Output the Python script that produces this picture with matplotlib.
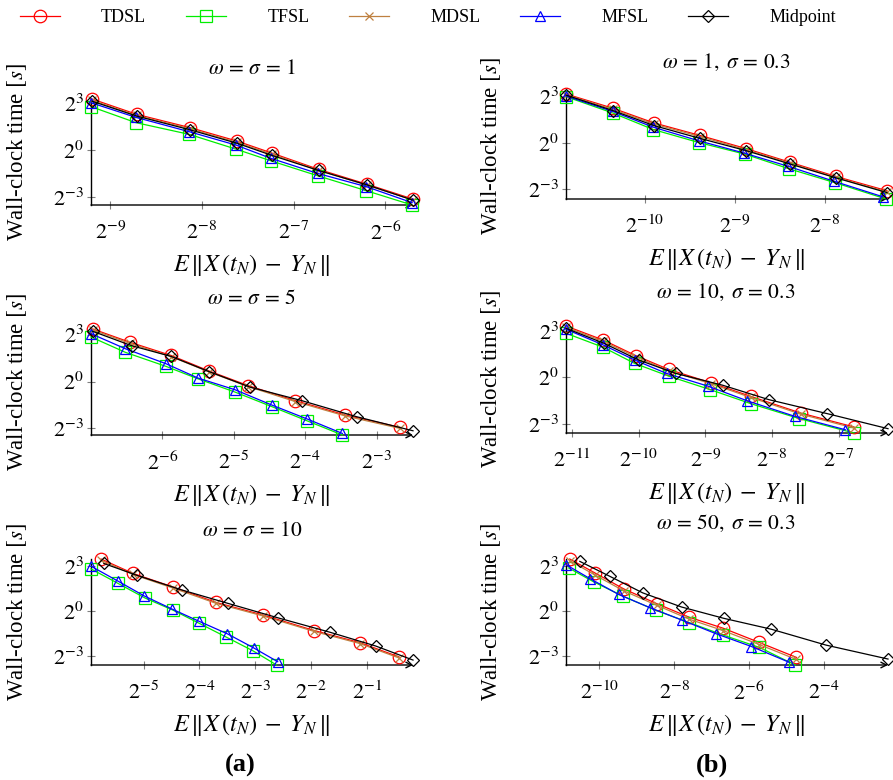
import numpy as np
import matplotlib
matplotlib.use("Agg")
import matplotlib.pyplot as plt
from matplotlib.ticker import FixedLocator, FixedFormatter, NullLocator

plt.rcParams['font.family'] = ['Liberation Serif', 'DejaVu Serif']
plt.rcParams['mathtext.fontset'] = 'stix'

# ---------------- data (log2 of error and log2 of wall-clock time) ----------------
methods = ["TDSL", "TFSL", "MDSL", "MFSL", "Midpoint"]

titles = [r"$\omega\,=\,\sigma\,=\,1$", r"$\omega\,=\,1,\;\sigma\,=\,0.3$",
          r"$\omega\,=\,\sigma\,=\,5$", r"$\omega\,=\,10,\;\sigma\,=\,0.3$",
          r"$\omega\,=\,\sigma\,=\,10$", r"$\omega\,=\,50,\;\sigma\,=\,0.3$"]

xticks_exp = [[-9, -8, -7, -6], [-10, -9, -8],
              [-6, -5, -4, -3], [-11, -10, -9, -8, -7],
              [-5, -4, -3, -2, -1], [-10, -8, -6, -4]]
yticks_exp = [-3, 0, 3]

# panel a1: omega = sigma = 1
a1_x_TDSL = [-9.20, -8.71, -8.13, -7.62, -7.24, -6.73, -6.20, -5.70]
a1_y_TDSL = [3.28, 2.29, 1.44, 0.58, -0.19, -1.24, -2.20, -3.15]
a1_x_TFSL = [-9.21, -8.72, -8.14, -7.63, -7.25, -6.74, -6.21, -5.71]
a1_y_TFSL = [2.79, 1.76, 1.01, 0.06, -0.69, -1.65, -2.61, -3.53]
a1_x_MDSL = [-9.20, -8.71, -8.13, -7.62, -7.24, -6.73, -6.20, -5.70]
a1_y_MDSL = [3.20, 2.22, 1.37, 0.50, -0.26, -1.30, -2.26, -3.21]
a1_x_MFSL = [-9.21, -8.72, -8.14, -7.63, -7.25, -6.74, -6.21, -5.71]
a1_y_MFSL = [3.04, 2.10, 1.18, 0.32, -0.53, -1.50, -2.35, -3.38]
a1_x_Mid = [-9.20, -8.71, -8.13, -7.62, -7.24, -6.73, -6.20, -5.70]
a1_y_Mid = [3.14, 2.18, 1.30, 0.44, -0.34, -1.31, -2.24, -3.22]

# panel b1: omega = 1, sigma = 0.3
b1_x_TDSL = [-10.88, -10.36, -9.90, -9.39, -8.88, -8.39, -7.88, -7.31]
b1_y_TDSL = [3.13, 2.22, 1.27, 0.47, -0.37, -1.25, -2.16, -3.08]
b1_x_TFSL = [-10.88, -10.36, -9.91, -9.40, -8.89, -8.40, -7.89, -7.32]
b1_y_TFSL = [2.96, 1.91, 0.85, 0.01, -0.73, -1.67, -2.56, -3.61]
b1_x_MDSL = [-10.88, -10.36, -9.90, -9.39, -8.88, -8.39, -7.88, -7.31]
b1_y_MDSL = [3.08, 2.15, 1.20, 0.40, -0.44, -1.31, -2.22, -3.15]
b1_x_MFSL = [-10.88, -10.36, -9.91, -9.40, -8.90, -8.41, -7.90, -7.36]
b1_y_MFSL = [3.00, 2.01, 1.00, 0.12, -0.66, -1.51, -2.47, -3.46]
b1_x_Mid = [-10.88, -10.36, -9.90, -9.39, -8.88, -8.39, -7.88, -7.31]
b1_y_Mid = [3.06, 2.07, 1.10, 0.28, -0.50, -1.36, -2.25, -3.20]

# panel a2: omega = sigma = 5
a2_x_TDSL = [-6.975, -6.46, -5.88, -5.35, -4.80, -4.14, -3.44, -2.67]
a2_y_TDSL = [3.36, 2.52, 1.67, 0.68, -0.26, -1.22, -2.14, -2.93]
a2_x_TFSL = [-7.00, -6.52, -5.95, -5.50, -4.98, -4.47, -3.97, -3.48]
a2_y_TFSL = [2.85, 1.87, 0.97, 0.17, -0.68, -1.60, -2.52, -3.42]
a2_x_MDSL = [-6.975, -6.46, -5.88, -5.35, -4.80, -4.14, -3.44, -2.67]
a2_y_MDSL = [3.30, 2.45, 1.60, 0.62, -0.32, -1.28, -2.20, -3.00]
a2_x_MFSL = [-7.00, -6.52, -5.95, -5.50, -4.98, -4.47, -3.97, -3.48]
a2_y_MFSL = [3.06, 2.10, 1.14, 0.22, -0.53, -1.50, -2.40, -3.32]
a2_x_Mid = [-6.975, -6.43, -5.88, -5.35, -4.77, -4.05, -3.28, -2.49]
a2_y_Mid = [3.21, 2.29, 1.61, 0.64, -0.36, -1.22, -2.25, -3.15]

# panel b2: omega = 10, sigma = 0.3
b2_x_TDSL = [-11.09, -10.53, -10.04, -9.55, -8.91, -8.32, -7.57, -6.77]
b2_y_TDSL = [3.32, 2.41, 1.40, 0.51, -0.36, -1.23, -2.31, -3.21]
b2_x_TFSL = [-11.09, -10.53, -10.06, -9.55, -8.93, -8.32, -7.59, -6.77]
b2_y_TFSL = [2.85, 1.94, 0.90, 0.08, -0.79, -1.70, -2.67, -3.60]
b2_x_MDSL = [-11.09, -10.53, -10.04, -9.55, -8.91, -8.32, -7.57, -6.77]
b2_y_MDSL = [3.24, 2.33, 1.32, 0.43, -0.42, -1.30, -2.38, -3.28]
b2_x_MFSL = [-11.09, -10.53, -10.06, -9.58, -8.96, -8.37, -7.66, -6.90]
b2_y_MFSL = [3.11, 2.09, 1.12, 0.25, -0.57, -1.52, -2.52, -3.39]
b2_x_Mid = [-11.09, -10.52, -10.00, -9.44, -8.74, -8.05, -7.17, -6.26]
b2_y_Mid = [3.17, 2.20, 1.12, 0.25, -0.51, -1.44, -2.35, -3.32]

# panel a3: omega = sigma = 10
a3_x_TDSL = [-5.76, -5.19, -4.48, -3.70, -2.87, -1.95, -1.13, -0.43]
a3_y_TDSL = [3.48, 2.52, 1.62, 0.58, -0.25, -1.29, -2.10, -3.05]
a3_x_TFSL = [-5.94, -5.46, -4.97, -4.48, -4.01, -3.52, -3.04, -2.62]
a3_y_TFSL = [2.82, 1.86, 0.87, 0.08, -0.80, -1.73, -2.65, -3.59]
a3_x_MDSL = [-5.76, -5.19, -4.48, -3.70, -2.87, -1.95, -1.13, -0.43]
a3_y_MDSL = [3.40, 2.45, 1.55, 0.52, -0.31, -1.35, -2.16, -3.12]
a3_x_MFSL = [-5.94, -5.46, -4.99, -4.49, -4.01, -3.50, -3.03, -2.60]
a3_y_MFSL = [3.00, 2.01, 1.02, 0.14, -0.67, -1.51, -2.45, -3.37]
a3_x_Mid = [-5.71, -5.11, -4.32, -3.49, -2.59, -1.67, -0.85, -0.18]
a3_y_Mid = [3.18, 2.38, 1.42, 0.52, -0.45, -1.40, -2.32, -3.26]

# panel b3: omega = 50, sigma = 0.3
b3_x_TDSL = [-10.79, -10.12, -9.35, -8.46, -7.59, -6.68, -5.72, -4.73]
b3_y_TDSL = [3.49, 2.56, 1.49, 0.49, -0.42, -1.16, -2.11, -3.11]
b3_x_TFSL = [-10.82, -10.13, -9.37, -8.48, -7.59, -6.68, -5.72, -4.76]
b3_y_TFSL = [2.89, 1.93, 1.00, 0.04, -0.78, -1.62, -2.44, -3.62]
b3_x_MDSL = [-10.79, -10.12, -9.35, -8.46, -7.59, -6.68, -5.72, -4.73]
b3_y_MDSL = [3.38, 2.42, 1.36, 0.38, -0.55, -1.32, -2.25, -3.25]
b3_x_MFSL = [-10.89, -10.24, -9.48, -8.64, -7.78, -6.89, -5.93, -4.92]
b3_y_MFSL = [3.11, 2.16, 1.11, 0.22, -0.62, -1.51, -2.38, -3.44]
b3_x_Mid = [-10.52, -9.72, -8.84, -7.80, -6.67, -5.40, -3.93, -2.28]
b3_y_Mid = [3.33, 2.33, 1.22, 0.27, -0.49, -1.22, -2.29, -3.22]

panels = [
    [(a1_x_TDSL, a1_y_TDSL), (a1_x_TFSL, a1_y_TFSL), (a1_x_MDSL, a1_y_MDSL), (a1_x_MFSL, a1_y_MFSL), (a1_x_Mid, a1_y_Mid)],
    [(b1_x_TDSL, b1_y_TDSL), (b1_x_TFSL, b1_y_TFSL), (b1_x_MDSL, b1_y_MDSL), (b1_x_MFSL, b1_y_MFSL), (b1_x_Mid, b1_y_Mid)],
    [(a2_x_TDSL, a2_y_TDSL), (a2_x_TFSL, a2_y_TFSL), (a2_x_MDSL, a2_y_MDSL), (a2_x_MFSL, a2_y_MFSL), (a2_x_Mid, a2_y_Mid)],
    [(b2_x_TDSL, b2_y_TDSL), (b2_x_TFSL, b2_y_TFSL), (b2_x_MDSL, b2_y_MDSL), (b2_x_MFSL, b2_y_MFSL), (b2_x_Mid, b2_y_Mid)],
    [(a3_x_TDSL, a3_y_TDSL), (a3_x_TFSL, a3_y_TFSL), (a3_x_MDSL, a3_y_MDSL), (a3_x_MFSL, a3_y_MFSL), (a3_x_Mid, a3_y_Mid)],
    [(b3_x_TDSL, b3_y_TDSL), (b3_x_TFSL, b3_y_TFSL), (b3_x_MDSL, b3_y_MDSL), (b3_x_MFSL, b3_y_MFSL), (b3_x_Mid, b3_y_Mid)],
]

# ---------------- styles ----------------
colors = ["#ff0000", "#00ee00", "#bf8040", "#0000ff", "#000000"]
markers = ["o", "s", "x", "^", "D"]
msizes = [9, 8, 6, 7.5, 6]

W, H = 893, 780
fig = plt.figure(figsize=(W / 100, H / 100), dpi=100)

# axes boxes in pixels: left, top, right, bottom
boxes = [(91, 99, 413, 205), (566, 94, 887, 199),
         (91, 329, 413, 435), (566, 326, 888, 433),
         (91, 559, 413, 665), (566, 559, 888, 665)]
title_pos = [(252, 70), (726, 62), (252, 299), (726, 292), (252, 531), (726, 523)]

handles = []
for i, (box, series) in enumerate(zip(boxes, panels)):
    l, t, r, b = box
    ax = fig.add_axes([l / W, 1 - b / H, (r - l) / W, (b - t) / H])
    ax.set_xscale('log', base=2)
    ax.set_yscale('log', base=2)
    allx, ally = [], []
    for k, (xs, ys) in enumerate(series):
        xv = 2.0 ** np.array(xs)
        yv = 2.0 ** np.array(ys)
        allx += list(xs)
        ally += list(ys)
        ln, = ax.plot(xv, yv, color=colors[k], marker=markers[k], ms=msizes[k],
                      mfc='none', mec=colors[k], mew=0.9, lw=0.9,
                      label=methods[k], clip_on=False, zorder=3)
        if i == 0:
            handles.append(ln)
    ax.set_xlim(2.0 ** min(allx), 2.0 ** max(allx))
    ax.set_ylim(2.0 ** min(ally), 2.0 ** max(ally))

    ax.xaxis.set_major_locator(FixedLocator([2.0 ** e for e in xticks_exp[i]]))
    ax.xaxis.set_major_formatter(FixedFormatter([r"$2^{%d}$" % e for e in xticks_exp[i]]))
    ax.yaxis.set_major_locator(FixedLocator([2.0 ** e for e in yticks_exp]))
    ax.yaxis.set_major_formatter(FixedFormatter([r"$2^{%d}$" % e for e in yticks_exp]))
    ax.xaxis.set_minor_locator(NullLocator())
    ax.yaxis.set_minor_locator(NullLocator())
    ax.tick_params(axis='both', direction='inout', length=6, width=0.8,
                   color='#808080', labelsize=16)
    ax.tick_params(axis='x', pad=9)
    ax.tick_params(axis='y', pad=2)

    for s in ['top', 'right', 'bottom']:
        ax.spines[s].set_visible(False)
    ax.spines['left'].set_linewidth(1.0)
    ax.patch.set_visible(False)
    ax.annotate('', xy=(1.0, 0), xytext=(0, 0), xycoords='axes fraction',
                arrowprops=dict(arrowstyle='->', lw=1.0, color='black',
                                shrinkA=0, shrinkB=0, mutation_scale=10),
                annotation_clip=False, zorder=2)

    ax.set_xlabel(r"$E\,\|X\,(t_N)\;-\;Y_N\,\|$", fontsize=17.5)
    ax.xaxis.set_label_coords(0.5, -47 / (b - t))
    ax.set_ylabel(r"Wall-clock time $[s]$", fontsize=16.5)
    ylab_x = 29 if l < 300 else 503
    ax.yaxis.set_label_coords((ylab_x - l) / (r - l), 0.5)

    tx, ty = title_pos[i]
    fig.text(tx / W, 1 - ty / H, titles[i], ha='center', va='center', fontsize=15.5)

fig.legend(handles=handles, labels=methods, loc='center', bbox_to_anchor=(428 / W, 1 - 18 / H),
           ncol=5, frameon=False, fontsize=13, handlelength=2.2, handletextpad=2.3,
           columnspacing=2.2)

fig.text(240 / W, 1 - 765 / H, "(a)", ha='center', va='center', fontsize=19, fontweight='bold')
fig.text(712 / W, 1 - 765 / H, "(b)", ha='center', va='center', fontsize=19, fontweight='bold')

fig.savefig("out.png", dpi=100)
